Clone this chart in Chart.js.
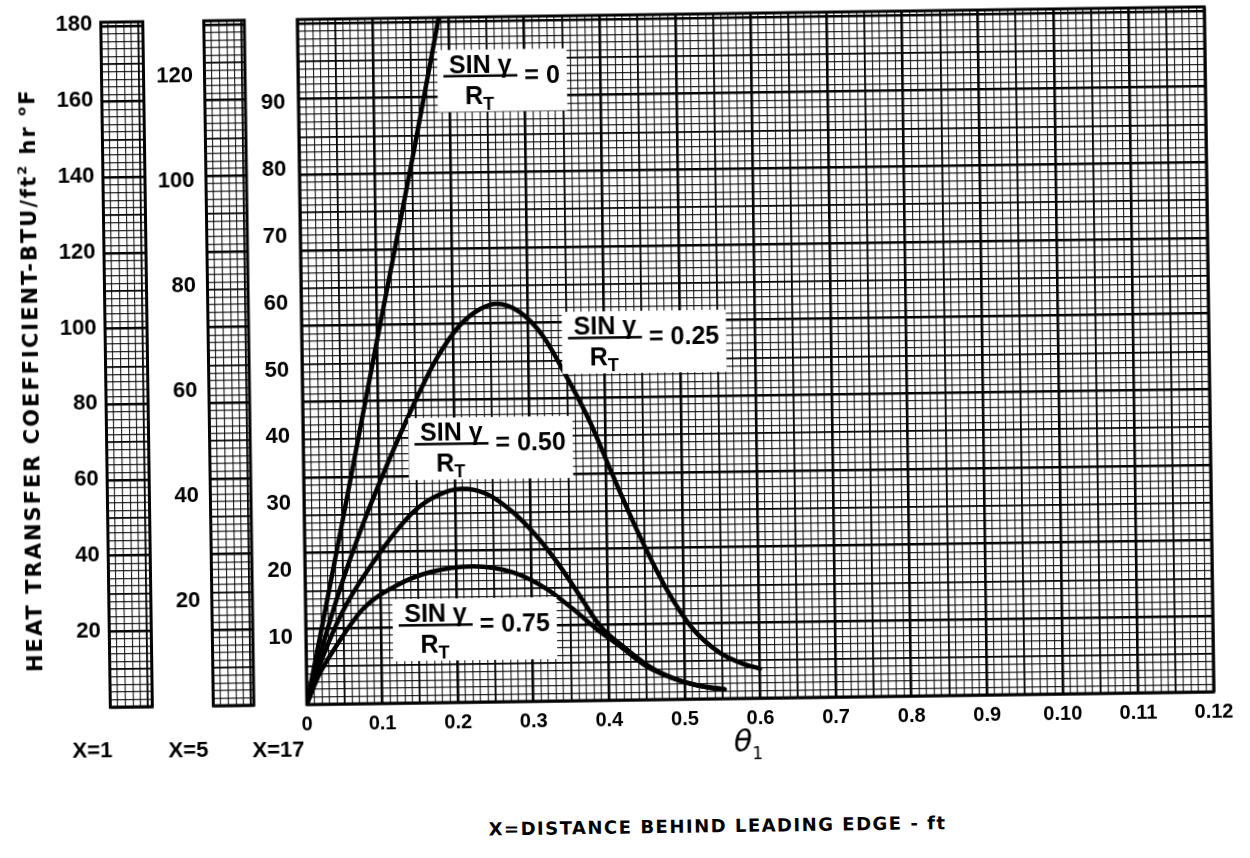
<!DOCTYPE html>
<html>
<head>
<meta charset="utf-8">
<title>Heat transfer coefficient vs theta</title>
<script src="https://cdn.jsdelivr.net/npm/chart.js@4.4.1/dist/chart.umd.min.js"></script>
<style>
  html, body { margin: 0; padding: 0; background: #fff; }
  #sheet {
    position: relative; width: 1250px; height: 858px; overflow: hidden;
    transform: rotate(-0.8deg); transform-origin: 625px 429px;
    font-family: "DejaVu Sans", sans-serif; color: #000;
  }
  canvas { position: absolute; top: 0; }
  .txt { position: absolute; white-space: nowrap; font-weight: bold; transform: translate(-50%, -50%); }
  .ytitle { font-size: 21px; letter-spacing: 2px; transform: translate(-50%, -50%) rotate(-90deg); }
  .ytitle sup, .xtitle sup { font-size: 13px; vertical-align: 9px; }
  .station { font-family: "Liberation Sans", sans-serif; font-size: 22px; }
  .theta { font-weight: normal; font-style: italic; font-size: 30px; }
  .theta sub { font-style: normal; font-size: 17px; vertical-align: -8px; }
  .xtitle { font-size: 18px; letter-spacing: 1.5px; }
</style>
</head>
<body>
<div id="sheet">
  <canvas id="strip1" width="160" height="760" style="left:0"></canvas>
  <canvas id="strip5" width="100" height="760" style="left:160px"></canvas>
  <canvas id="main" width="1050" height="760" style="left:200px"></canvas>

  <div class="txt ytitle" style="left:31px; top:372px">HEAT TRANSFER COEFFICIENT-BTU/ft<sup>2</sup> hr <sup>o</sup>F</div>
  <div class="txt station" style="left:88px; top:743px">X=1</div>
  <div class="txt station" style="left:184px; top:744px">X=5</div>
  <div class="txt station" style="left:274px; top:745px">X=17</div>
  <div class="txt theta" style="left:744px; top:745px">θ<sub>1</sub></div>
  <div class="txt xtitle" style="left:712px; top:827px">X=DISTANCE BEHIND LEADING EDGE - ft</div>
</div>

<script>
/* ---- scales ---- */
const strip1Ticks = [20, 40, 60, 80, 100, 120, 140, 160, 180];   // X = 1 ft
const strip5Ticks = [20, 40, 60, 80, 100, 120];                  // X = 5 ft
const mainYTicks  = [10, 20, 30, 40, 50, 60, 70, 80, 90];        // X = 17 ft
const strip1Max = 180.5;
const strip5Max = 130.4;
const mainYMax  = 102.4;

const thetaTicks  = [0, 0.1, 0.2, 0.3, 0.4, 0.5, 0.6, 0.7, 0.8, 0.9, 1.0, 1.1, 1.2];
const thetaLabels = ['0', '0.1', '0.2', '0.3', '0.4', '0.5', '0.6', '0.7', '0.8', '0.9', '0.10', '0.11', '0.12'];

/* ---- curves, one per sin(gamma)/R_T ---- */
const ratioLabels = ['0', '0.25', '0.50', '0.75'];

const theta0 = [0, 0.05, 0.10, 0.15, 0.19];
const h0     = [0, 27, 54.5, 81.5, 104];

const theta25 = [0, 0.02, 0.05, 0.08, 0.11, 0.146, 0.178, 0.209, 0.236, 0.258, 0.289, 0.319, 0.349, 0.380, 0.409, 0.4435, 0.478, 0.512, 0.547, 0.575, 0.60];
const h25     = [0, 8, 18.5, 27.5, 35.5, 44.4, 51.4, 56.3, 58.7, 59.5, 58.2, 54.6, 48.6, 41.6, 33.6, 24.5, 16.5, 10.5, 6.9, 5.3, 4.4];

const theta50 = [0, 0.02, 0.05, 0.10, 0.144, 0.1755, 0.2086, 0.2417, 0.2764, 0.307, 0.337, 0.363, 0.389, 0.424, 0.459, 0.494, 0.528, 0.553];
const h50     = [0, 6.5, 14, 22.6, 28.5, 30.9, 31.9, 31.1, 28.3, 24.7, 20.2, 15.7, 11.2, 7.6, 4.6, 2.8, 1.8, 1.4];

const theta75 = [0, 0.015, 0.0315, 0.0764, 0.121, 0.165, 0.2226, 0.2754, 0.319, 0.354, 0.3845, 0.415, 0.45, 0.494, 0.528, 0.553];
const h75     = [0, 4, 7.2, 14.2, 17.6, 19.5, 20.3, 19.3, 16.8, 13.7, 10.7, 8.1, 5.0, 2.8, 1.8, 1.4];

/* ---- graph paper ---- */
const SQ = 7.565;                 // one square of the paper, px
const PLOT_H = 685;               // plot height, px
const paperRows = PLOT_H / SQ;
const LETTER = '"Liberation Sans", Arial, sans-serif';

Chart.defaults.font.family = LETTER;
Chart.defaults.color = '#000';

function paperTicks(scale) {
  const t = [];
  for (let i = 0; i <= Math.floor(scale.max + 1e-6); i++) t.push({ value: i });
  scale.ticks = t;
}
function lineW(n) { return n % 10 === 0 ? 2.6 : n % 5 === 0 ? 1.8 : 1.15; }
function lineC(n) { return n % 5 === 0 ? '#000' : 'rgba(0,0,0,0.85)'; }
const paperGrid = {
  drawTicks: false,
  lineWidth: c => lineW(Math.round(c.tick.value)),
  color: c => lineC(Math.round(c.tick.value)),
};

function paperAxis(axis, position, max, thickness) {
  return {
    type: 'linear', axis, position, min: 0, max,
    afterBuildTicks: paperTicks,
    afterFit: s => {
      if (axis === 'x') s.height = thickness; else s.width = thickness;
      s.paddingTop = s.paddingBottom = s.paddingLeft = s.paddingRight = 0;
    },
    grid: paperGrid,
    border: { display: false },
    ticks: { display: false, autoSkip: false },
  };
}

function valueAxis(max, tickList, width, pad) {
  return {
    type: 'linear', position: 'left', min: 0, max,
    afterBuildTicks: s => { s.ticks = tickList.map(v => ({ value: v })); },
    afterFit: s => { s.width = width; s.paddingTop = 0; s.paddingBottom = 0; },
    grid: { display: false, drawTicks: false },
    border: { display: false },
    ticks: { padding: pad, autoSkip: false, font: { size: 22, weight: 'bold' } },
  };
}

// heavy outline round every plot area
const frame = {
  id: 'frame',
  afterDraw(chart) {
    const { ctx, chartArea: a } = chart;
    ctx.save();
    ctx.lineWidth = 3;
    ctx.strokeStyle = '#000';
    ctx.strokeRect(a.left, a.top, a.right - a.left, a.bottom - a.top);
    ctx.restore();
  }
};

const baseOpts = {
  responsive: false,
  animation: false,
  events: [],
  plugins: { legend: { display: false }, tooltip: { enabled: false } },
};

/* ---- side scales ---- */
function stripChart(id, max, tickList, width, pad, plotW, padRight) {
  return new Chart(document.getElementById(id), {
    type: 'line',
    data: { datasets: [] },
    options: {
      ...baseOpts,
      layout: { padding: { top: 15, right: padRight, left: 0, bottom: 0 } },
      scales: {
        x: paperAxis('x', 'bottom', plotW / SQ, 60),
        y: valueAxis(max, tickList, width, pad),
        py: paperAxis('y', 'right', paperRows, 0),
      },
    },
    plugins: [frame],
  });
}
stripChart('strip1', strip1Max, strip1Ticks, 106.5, 8.5, 42, 11.5);
stripChart('strip5', strip5Max, strip5Ticks, 49.5, 11.5, 40.5, 10);

/* ---- ratio tags inside the plot ---- */
const notePlace = [
  { x: 0.270, y: 92.9 },
  { x: 0.453, y: 53.5 },
  { x: 0.248, y: 37.95 },
  { x: 0.2237, y: 10.9 },
];

const ratioNotes = {
  id: 'ratioNotes',
  afterDatasetsDraw(chart) {
    const { ctx, scales: { x, y } } = chart;
    const big = 'bold 25px ' + LETTER;
    ctx.save();
    ratioLabels.forEach((r, i) => {
      const cx = x.getPixelForValue(notePlace[i].x);
      const cy = y.getPixelForValue(notePlace[i].y);
      const eq = '= ' + r;
      ctx.font = big;
      const w = 87 + ctx.measureText(eq).width + 7, h = 62;
      const l = cx - w / 2, t = cy - h / 2;
      ctx.fillStyle = '#fff';
      ctx.fillRect(l, t, w, h);
      ctx.fillStyle = '#000';
      ctx.textAlign = 'center';
      ctx.textBaseline = 'alphabetic';
      ctx.fillText('SIN γ', l + 43, t + 23);
      ctx.fillRect(l + 6, t + 25, 74, 2.5);
      ctx.fillText('R', l + 36.5, t + 54);
      ctx.font = 'bold 18px ' + LETTER;
      ctx.fillText('T', l + 51, t + 60);
      ctx.font = big;
      ctx.textAlign = 'left';
      ctx.fillText(eq, l + 87, t + 34);
    });
    ctx.restore();
  }
};

function curve(xs, ys) { return xs.map((v, i) => ({ x: v, y: ys[i] })); }

/* ---- main plot, X = 17 ft ---- */
new Chart(document.getElementById('main'), {
  type: 'line',
  data: {
    datasets: [
      { label: ratioLabels[0], data: curve(theta0, h0) },
      { label: ratioLabels[1], data: curve(theta25, h25) },
      { label: ratioLabels[2], data: curve(theta50, h50) },
      { label: ratioLabels[3], data: curve(theta75, h75) },
    ],
  },
  options: {
    ...baseOpts,
    layout: { padding: { top: 15, right: 40, left: 0, bottom: 0 } },
    elements: {
      point: { radius: 0 },
      line: { borderWidth: 4.5, borderColor: '#000', fill: false, cubicInterpolationMode: 'monotone', borderCapStyle: 'round' },
    },
    scales: {
      x: {
        type: 'linear', position: 'bottom', min: 0, max: 1.2,
        afterBuildTicks: s => {
          const t = [];
          for (let i = 0; i <= 120; i++) t.push({ value: i / 100 });
          s.ticks = t;
        },
        afterFit: s => { s.height = 60; },
        grid: {
          drawTicks: false,
          lineWidth: c => lineW(Math.round(c.tick.value * 100)),
          color: c => lineC(Math.round(c.tick.value * 100)),
        },
        border: { display: false },
        ticks: {
          autoSkip: false, maxRotation: 0, padding: 8,
          font: { size: 20, weight: 'bold' },
          callback: v => {
            const k = thetaTicks.findIndex(t => Math.abs(t - v) < 1e-9);
            return k < 0 ? '' : thetaLabels[k];
          },
        },
      },
      y: valueAxis(mainYMax, mainYTicks, 103, 13),
      py: paperAxis('y', 'right', paperRows, 0),
    },
  },
  plugins: [ratioNotes, frame],
});
</script>
</body>
</html>
